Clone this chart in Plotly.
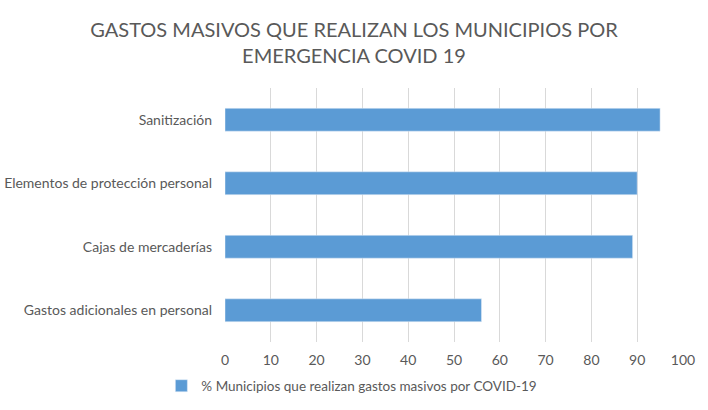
import plotly.graph_objects as go

# categories from bottom to top, as Excel draws them
categorias = [
    "Gastos adicionales en personal",
    "Cajas de mercaderías",
    "Elementos de protección personal",
    "Sanitización",
]
porcentajes = [56, 89, 90, 95]
serie = "% Municipios que realizan gastos masivos por COVID-19"
ticks_x = [0, 10, 20, 30, 40, 50, 60, 70, 80, 90, 100]

fig = go.Figure()
fig.add_trace(go.Bar(
    x=porcentajes,
    y=categorias,
    orientation="h",
    name=serie,
    marker=dict(color="#5b9bd5"),
    showlegend=True,
))

fig.update_layout(
    width=708,
    height=410,
    paper_bgcolor="white",
    plot_bgcolor="white",
    font=dict(family="Lato, Open Sans, sans-serif", color="#595959", size=14),
    title=dict(
        text="GASTOS MASIVOS QUE REALIZAN LOS MUNICIPIOS POR<br>EMERGENCIA COVID 19",
        x=0.5,
        xanchor="center",
        y=0.91,
        yanchor="middle",
        font=dict(size=20, color="#595959", family="Lato, Open Sans, sans-serif"),
    ),
    margin=dict(l=225, r=25, t=88, b=68, autoexpand=False),
    bargap=0.64,
    legend=dict(
        orientation="h",
        x=0.277,
        xanchor="center",
        y=-0.173,
        yanchor="middle",
        font=dict(size=13.5, color="#595959"),
        itemwidth=30,
    ),
)

fig.update_xaxes(
    range=[0, 100],
    tickvals=ticks_x,
    showgrid=True,
    gridcolor="#d9d9d9",
    gridwidth=1,
    zeroline=False,
    showline=False,
    ticks="",
    ticklabelstandoff=8,
    automargin=False,
    tickfont=dict(size=14, color="#595959"),
)
fig.update_yaxes(
    showgrid=False,
    showline=False,
    ticks="",
    ticklabelstandoff=12,
    automargin=False,
    tickfont=dict(size=14, color="#595959"),
)

# the page body has a default 8px margin; drop it so the chart fills the window
fig.write_html(
    "out.html",
    config={"displayModeBar": False},
    post_script="document.body.style.margin='0';",
)
